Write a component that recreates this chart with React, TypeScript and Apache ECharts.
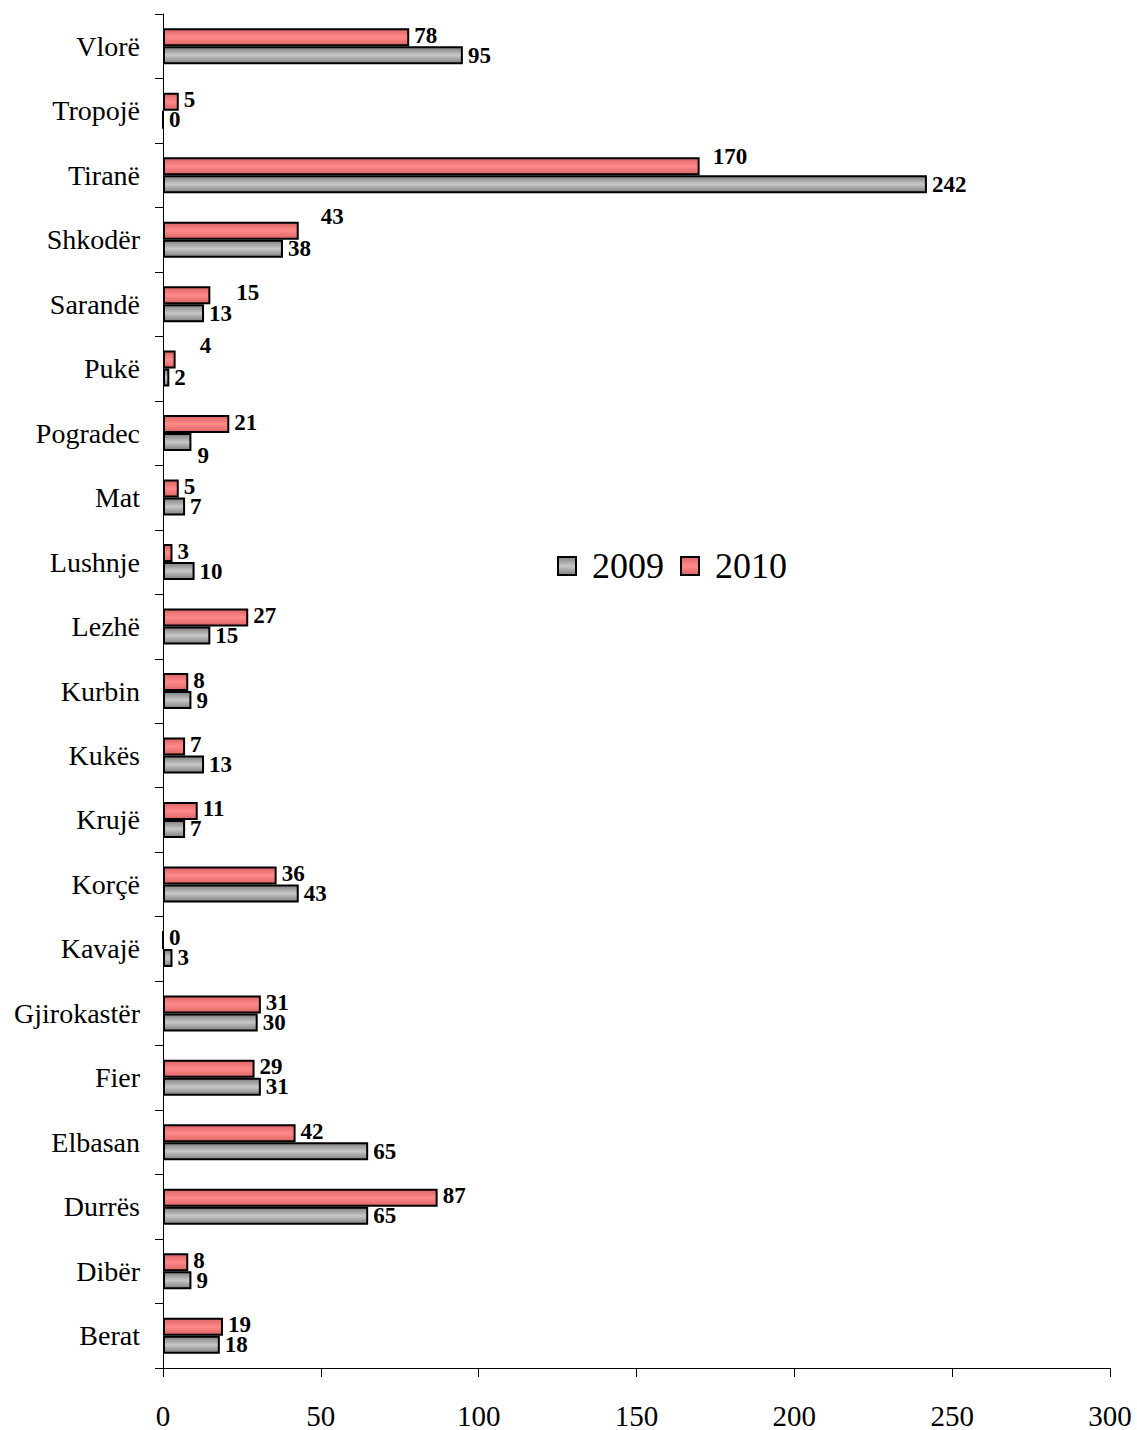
import React, { useEffect, useRef } from "react";
import * as echarts from "echarts";

const categories = [
  "Berat", "Dibër", "Durrës", "Elbasan", "Fier", "Gjirokastër", "Kavajë",
  "Korçë", "Krujë", "Kukës", "Kurbin", "Lezhë", "Lushnje", "Mat",
  "Pogradec", "Pukë", "Sarandë", "Shkodër", "Tiranë", "Tropojë", "Vlorë",
];
const values2009 = [18, 9, 65, 65, 31, 30, 3, 43, 7, 13, 9, 15, 10, 7, 9, 2, 13, 38, 242, 0, 95];
const values2010 = [19, 8, 87, 42, 29, 31, 0, 36, 11, 7, 8, 27, 3, 5, 21, 4, 15, 43, 170, 5, 78];
const xTicks = { min: 0, max: 300, interval: 50 };

// manual label nudges (as in the source), keyed by category
const offsets2010: Record<string, number[]> = {
  "Shkodër": [17, -14],
  "Sarandë": [21, -3],
  "Pukë": [19, -14],
  "Tiranë": [8, -10],
};
const offsets2009: Record<string, number[]> = {
  "Pogradec": [1, 13],
};

const SERIF = "Liberation Serif";

export default function App() {
  const ref = useRef<HTMLDivElement>(null);
  useEffect(() => {
    if (!ref.current) return;
    const chart = echarts.init(ref.current, null, { renderer: "svg" });
    const grayGrad = new echarts.graphic.LinearGradient(0, 0, 0, 1, [
      { offset: 0, color: "#808080" },
      { offset: 0.5, color: "#c8c8c8" },
      { offset: 1, color: "#808080" },
    ]);
    const redGrad = new echarts.graphic.LinearGradient(0, 0, 0, 1, [
      { offset: 0, color: "#dd6464" },
      { offset: 0.5, color: "#ff8a8a" },
      { offset: 1, color: "#dd6464" },
    ]);
    const labelBase = {
      show: true,
      position: "right",
      distance: 5,
      fontFamily: SERIF,
      fontWeight: "bold",
      fontSize: 23,
      lineHeight: 20,
      color: "#000",
    };
    const mk = (vals: number[], offs: Record<string, number[]>, baseOff: number[]) =>
      vals.map((v, i) => {
        const o = offs[categories[i]];
        return o
          ? { value: v, label: { offset: [o[0], o[1]] } }
          : { value: v, label: { offset: baseOff } };
      });
    chart.setOption({
      animation: false,
      backgroundColor: "#fff",
      grid: { left: 163, right: 27, top: 14, bottom: 62, containLabel: false },
      legend: {
        left: 552,
        top: 543,
        itemWidth: 18,
        itemHeight: 18,
        itemGap: 16,
        icon: "rect",
        data: ["2009", "2010"],
        textStyle: {
          fontFamily: SERIF,
          fontSize: 36,
          color: "#000",
          padding: [0, 0, 0, 11],
        },
      },
      xAxis: {
        type: "value",
        min: xTicks.min,
        max: xTicks.max,
        interval: xTicks.interval,
        splitLine: { show: false },
        axisLine: { show: true, lineStyle: { color: "#000", width: 1 } },
        axisTick: { show: true, length: 9, lineStyle: { color: "#000" } },
        axisLabel: {
          fontFamily: SERIF,
          fontSize: 29,
          color: "#000",
          margin: 33,
        },
      },
      yAxis: {
        type: "category",
        data: categories,
        axisLine: { show: true, lineStyle: { color: "#000", width: 1 } },
        axisTick: { show: true, length: 8, lineStyle: { color: "#000" } },
        axisLabel: {
          fontFamily: SERIF,
          fontSize: 28,
          color: "#000",
          margin: 23,
        },
      },
      series: [
        {
          name: "2010",
          type: "bar",
          barWidth: 18,
          barGap: "0%",
          data: mk(values2010, offsets2010, [0, -2]),
          itemStyle: { color: redGrad, borderColor: "#000", borderWidth: 2 },
          label: labelBase,
        },
        {
          name: "2009",
          type: "bar",
          barWidth: 18,
          barGap: "0%",
          data: mk(values2009, offsets2009, [0, 0]),
          itemStyle: { color: grayGrad, borderColor: "#000", borderWidth: 2 },
          label: labelBase,
        },
      ],
    });
    return () => chart.dispose();
  }, []);
  return (
    <div
      ref={ref}
      style={{ position: "absolute", left: 0, top: 0, width: 1137, height: 1430 }}
    />
  );
}
